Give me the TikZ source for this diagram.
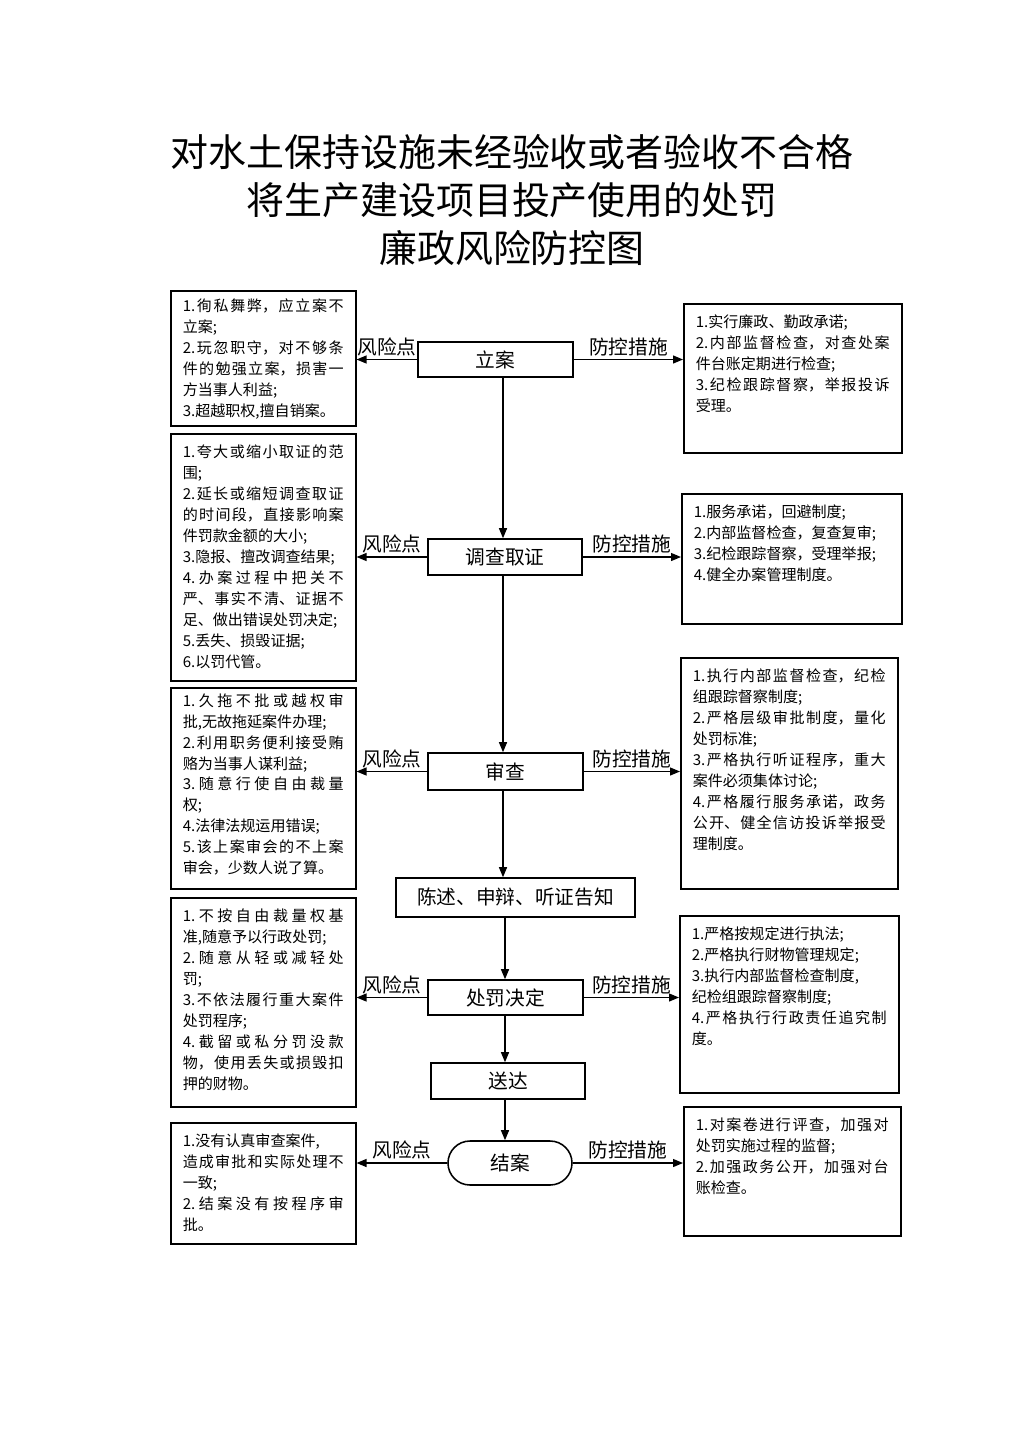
\documentclass[tikz,border=0pt]{standalone}
\usepackage{fontspec}
\setmainfont{Noto Sans CJK SC}
\usetikzlibrary{arrows.meta,shapes.misc}
\XeTeXlinebreaklocale "zh"
\XeTeXlinebreakskip=0pt plus 3pt
\tikzset{
  tb/.style={draw, line width=1.1pt, inner xsep=0.3cm, inner ysep=0pt, anchor=north west},
  cb/.style={draw, line width=1.1pt, font=\fontsize{14pt}{16pt}\selectfont, inner sep=0pt},
  lab/.style={font=\fontsize{14pt}{16pt}\selectfont, inner sep=2pt},
  arr/.style={line width=0.9pt, -{Triangle[length=0.25cm,width=0.2cm]}}
}
\newcommand\tbox[7][8pt]{%
  \node[tb] (#2) at (#3,#4) {\begin{minipage}[t][\dimexpr 0.025cm*(#6-#4)\relax][t]{\dimexpr 0.025cm*(#5-#3-24)\relax}%
  \fontsize{10.7pt}{14.9pt}\selectfont\vspace*{#1}#7\end{minipage}};}
\begin{document}
\begin{tikzpicture}[x=0.025cm,y=-0.025cm]
\useasboundingbox (0,0) rectangle (1024,1449);
% title
\node[font=\fontsize{27pt}{34pt}\selectfont, align=center] (title) at (512,200)
  {对水土保持设施未经验收或者验收不合格\\将生产建设项目投产使用的处罚\\廉政风险防控图};
% left boxes
\tbox[6pt]{L1}{170}{290}{355}{425}{1.徇私舞弊，应立案不\linebreak 立案;\\2.玩忽职守，对不够条\linebreak 件的勉强立案，损害一\linebreak 方当事人利益;\\\mbox{3.超越职权,擅自销案。}}
\tbox{L2}{170}{433}{355}{680}{1.夸大或缩小取证的范\linebreak 围;\\2.延长或缩短调查取证\linebreak 的时间段，直接影响案\linebreak 件罚款金额的大小;\\3.隐报、擅改调查结果;\\4.办案过程中把关不\linebreak 严、事实不清、证据不\linebreak 足、做出错误处罚决定;\\5.丢失、损毁证据;\\6.以罚代管。}
\tbox[4pt]{L3}{170}{687}{355}{888}{1.久拖不批或越权审\linebreak 批,无故拖延案件办理;\\2.利用职务便利接受贿\linebreak 赂为当事人谋利益;\\3.随意行使自由裁量\linebreak 权;\\4.法律法规运用错误;\\5.该上案审会的不上案\linebreak 审会，少数人说了算。}
\tbox{L4}{170}{897}{355}{1106}{1.不按自由裁量权基\linebreak 准,随意予以行政处罚;\\2.随意从轻或减轻处\linebreak 罚;\\3.不依法履行重大案件\linebreak 处罚程序;\\4.截留或私分罚没款\linebreak 物，使用丢失或损毁扣\linebreak 押的财物。}
\tbox{L5}{170}{1122}{355}{1243}{1.没有认真审查案件,\\造成审批和实际处理不\linebreak 一致;\\2.结案没有按程序审\linebreak 批。}
% right boxes
\tbox{R1}{683}{303}{901}{452}{1.实行廉政、勤政承诺;\\2.内部监督检查，对查处案\linebreak 件台账定期进行检查;\\3.纪检跟踪督察，举报投诉\linebreak 受理。}
\tbox{R2}{681}{493}{901}{623}{1.服务承诺，回避制度;\\2.内部监督检查，复查复审;\\3.纪检跟踪督察，受理举报;\\4.健全办案管理制度。}
\tbox{R3}{680}{657}{897}{888}{1.执行内部监督检查，纪检\linebreak 组跟踪督察制度;\\2.严格层级审批制度，量化\linebreak 处罚标准;\\3.严格执行听证程序，重大\linebreak 案件必须集体讨论;\\4.严格履行服务承诺，政务\linebreak 公开、健全信访投诉举报受\linebreak 理制度。}
\tbox{R4}{679}{915}{898}{1092}{1.严格按规定进行执法;\\2.严格执行财物管理规定;\\3.执行内部监督检查制度,\\纪检组跟踪督察制度;\\4.严格执行行政责任追究制\linebreak 度。}
\tbox{R5}{683}{1106}{900}{1235}{1.对案卷进行评查，加强对\linebreak 处罚实施过程的监督;\\2.加强政务公开，加强对台\linebreak 账检查。}
% centre flow
\node[cb, minimum width=3.875cm, minimum height=0.875cm] (lian) at (495.5,359.5) {立案};
\node[cb, minimum width=3.85cm, minimum height=0.9cm] (dc) at (505,557) {调查取证};
\node[cb, minimum width=3.875cm, minimum height=0.925cm] (sc) at (505.5,771.5) {审查};
\node[cb, minimum width=5.975cm, minimum height=0.975cm] (cs) at (515.5,897.5) {陈述、申辩、听证告知};
\node[cb, minimum width=3.875cm, minimum height=0.875cm] (cf) at (505.5,997.5) {处罚决定};
\node[cb, minimum width=3.85cm, minimum height=0.9cm] (sd) at (508,1081) {送达};
\node[cb, rounded rectangle, minimum width=3.1cm, minimum height=1.1cm] (ja) at (510,1163) {结案};
\coordinate (vx) at (503,0);
\coordinate (vy) at (505,0);
\draw[arr] (lian.south -| vx) -- (dc.north -| vx);
\draw[arr] (dc.south -| vx) -- (sc.north -| vx);
\draw[arr] (sc.south -| vx) -- (cs.north -| vx);
\draw[arr] (cs.south -| vy) -- (cf.north -| vy);
\draw[arr] (cf.south -| vy) -- (sd.north -| vy);
\draw[arr] (sd.south -| vy) -- (ja.north -| vy);
% side arrows
\draw[arr] (lian.west) -- (L1.east |- lian.west) node[lab, midway, above] (f1) {风险点};
\draw[arr] (lian.east) -- (R1.west |- lian.east) node[lab, midway, above] (p1) {防控措施};
\draw[arr] (dc.west) -- (L2.east |- dc.west) node[lab, midway, above] (f2) {风险点};
\draw[arr] (dc.east) -- (R2.west |- dc.east) node[lab, midway, above] (p2) {防控措施};
\draw[arr] (sc.west) -- (L3.east |- sc.west) node[lab, midway, above] (f3) {风险点};
\draw[arr] (sc.east) -- (R3.west |- sc.east) node[lab, midway, above] (p3) {防控措施};
\draw[arr] (cf.west) -- (L4.east |- cf.west) node[lab, midway, above] (f4) {风险点};
\draw[arr] (cf.east) -- (R4.west |- cf.east) node[lab, midway, above] (p4) {防控措施};
\draw[arr] (ja.west) -- (L5.east |- ja.west) node[lab, midway, above] (f5) {风险点};
\draw[arr] (ja.east) -- (R5.west |- ja.east) node[lab, midway, above] (p5) {防控措施};
\end{tikzpicture}
\end{document}
